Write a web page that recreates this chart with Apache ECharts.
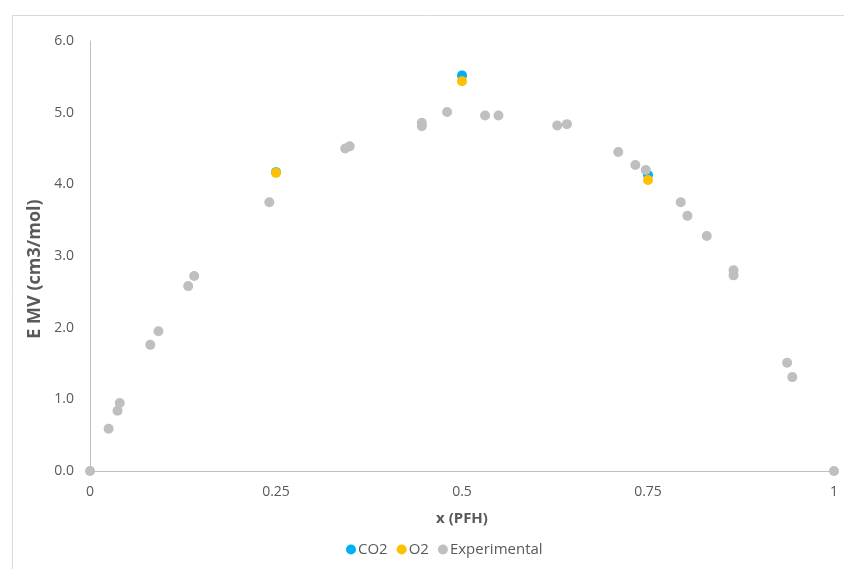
<!DOCTYPE html>
<html>
<head>
<meta charset="utf-8">
<script src="https://cdn.jsdelivr.net/npm/echarts@6/dist/echarts.min.js"></script>
<style>html,body{margin:0;padding:0;background:#fff;}#c{width:844px;height:569px;}</style>
</head>
<body>
<div id="c"></div>
<script>
const seriesNames = ['CO2', 'O2', 'Experimental'];
const co2X = [0.25, 0.5, 0.75];
const co2Y = [4.17, 5.52, 4.13];
const o2X = [0.25, 0.5, 0.75];
const o2Y = [4.16, 5.44, 4.06];
const expX = [0, 0.025, 0.037, 0.040, 0.081, 0.092, 0.132, 0.140, 0.241, 0.343, 0.349, 0.446, 0.446, 0.480, 0.531, 0.549, 0.628, 0.641, 0.710, 0.733, 0.747, 0.794, 0.803, 0.829, 0.865, 0.865, 0.937, 0.944, 1];
const expY = [0, 0.59, 0.84, 0.95, 1.76, 1.95, 2.58, 2.72, 3.75, 4.50, 4.53, 4.86, 4.81, 5.01, 4.96, 4.96, 4.82, 4.84, 4.45, 4.27, 4.20, 3.75, 3.56, 3.28, 2.80, 2.73, 1.51, 1.31, 0];
const xTicks = [0, 0.25, 0.5, 0.75, 1];
const yTicks = [0, 1, 2, 3, 4, 5, 6];
const yTitle = 'E MV (cm3/mol)';
const xTitle = 'x (PFH)';

const zip = (xs, ys) => xs.map((x, i) => [x, ys[i]]);
const colors = ['#00B0F0', '#FFC000', '#BFBFBF'];
const FONT = '"Open Sans", sans-serif';

const chart = echarts.init(document.getElementById('c'), null, {renderer: 'canvas'});
chart.setOption({
  animation: false,
  backgroundColor: '#fff',
  color: colors,
  textStyle: {fontFamily: FONT},
  graphic: [{
    type: 'rect', left: 10, top: 13, shape: {width: 900, height: 700},
    style: {fill: 'none', stroke: '#D9D9D9', lineWidth: 1}, silent: true
  }, {
    type: 'text', x: 35, y: 269, rotation: Math.PI / 2, silent: true,
    style: {text: yTitle, fontSize: 18, fontWeight: 'bold', fill: '#595959', fontFamily: FONT,
      align: 'center', verticalAlign: 'middle'}
  }],
  grid: {left: 90, right: 10, top: 41, bottom: 98},
  legend: {
    bottom: 7, left: 341, itemWidth: 10, itemHeight: 10, itemGap: 9,
    icon: 'circle',
    textStyle: {fontSize: 15, color: '#595959', fontFamily: FONT, padding: [0, 0, 0, -3]},
    data: seriesNames
  },
  xAxis: {
    type: 'value', min: 0, max: 1, interval: 0.25,
    name: xTitle, nameLocation: 'middle', nameGap: 40,
    nameTextStyle: {fontSize: 15, fontWeight: 'bold', color: '#595959', fontFamily: FONT},
    axisLine: {show: true, lineStyle: {color: '#BFBFBF', width: 1}},
    axisTick: {show: false},
    splitLine: {show: false},
    axisLabel: {fontSize: 14, color: '#595959', margin: 14, fontFamily: FONT,
      formatter: v => xTicks.includes(v) ? String(v) : ''}
  },
  yAxis: {
    type: 'value', min: 0, max: 6, interval: 1,
    axisLine: {show: true, lineStyle: {color: '#BFBFBF', width: 1}},
    axisTick: {show: false},
    splitLine: {show: false},
    axisLabel: {fontSize: 14, color: '#595959', margin: 16, fontFamily: FONT,
      formatter: v => yTicks.includes(v) ? v.toFixed(1) : ''}
  },
  series: [
    {name: 'CO2', type: 'scatter', symbolSize: 10, data: zip(co2X, co2Y), itemStyle: {color: colors[0], opacity: 1}},
    {name: 'O2', type: 'scatter', symbolSize: 10, data: zip(o2X, o2Y), itemStyle: {color: colors[1], opacity: 1}},
    {name: 'Experimental', type: 'scatter', symbolSize: 10, data: zip(expX, expY), itemStyle: {color: colors[2], opacity: 1}}
  ]
});
</script>
</body>
</html>
